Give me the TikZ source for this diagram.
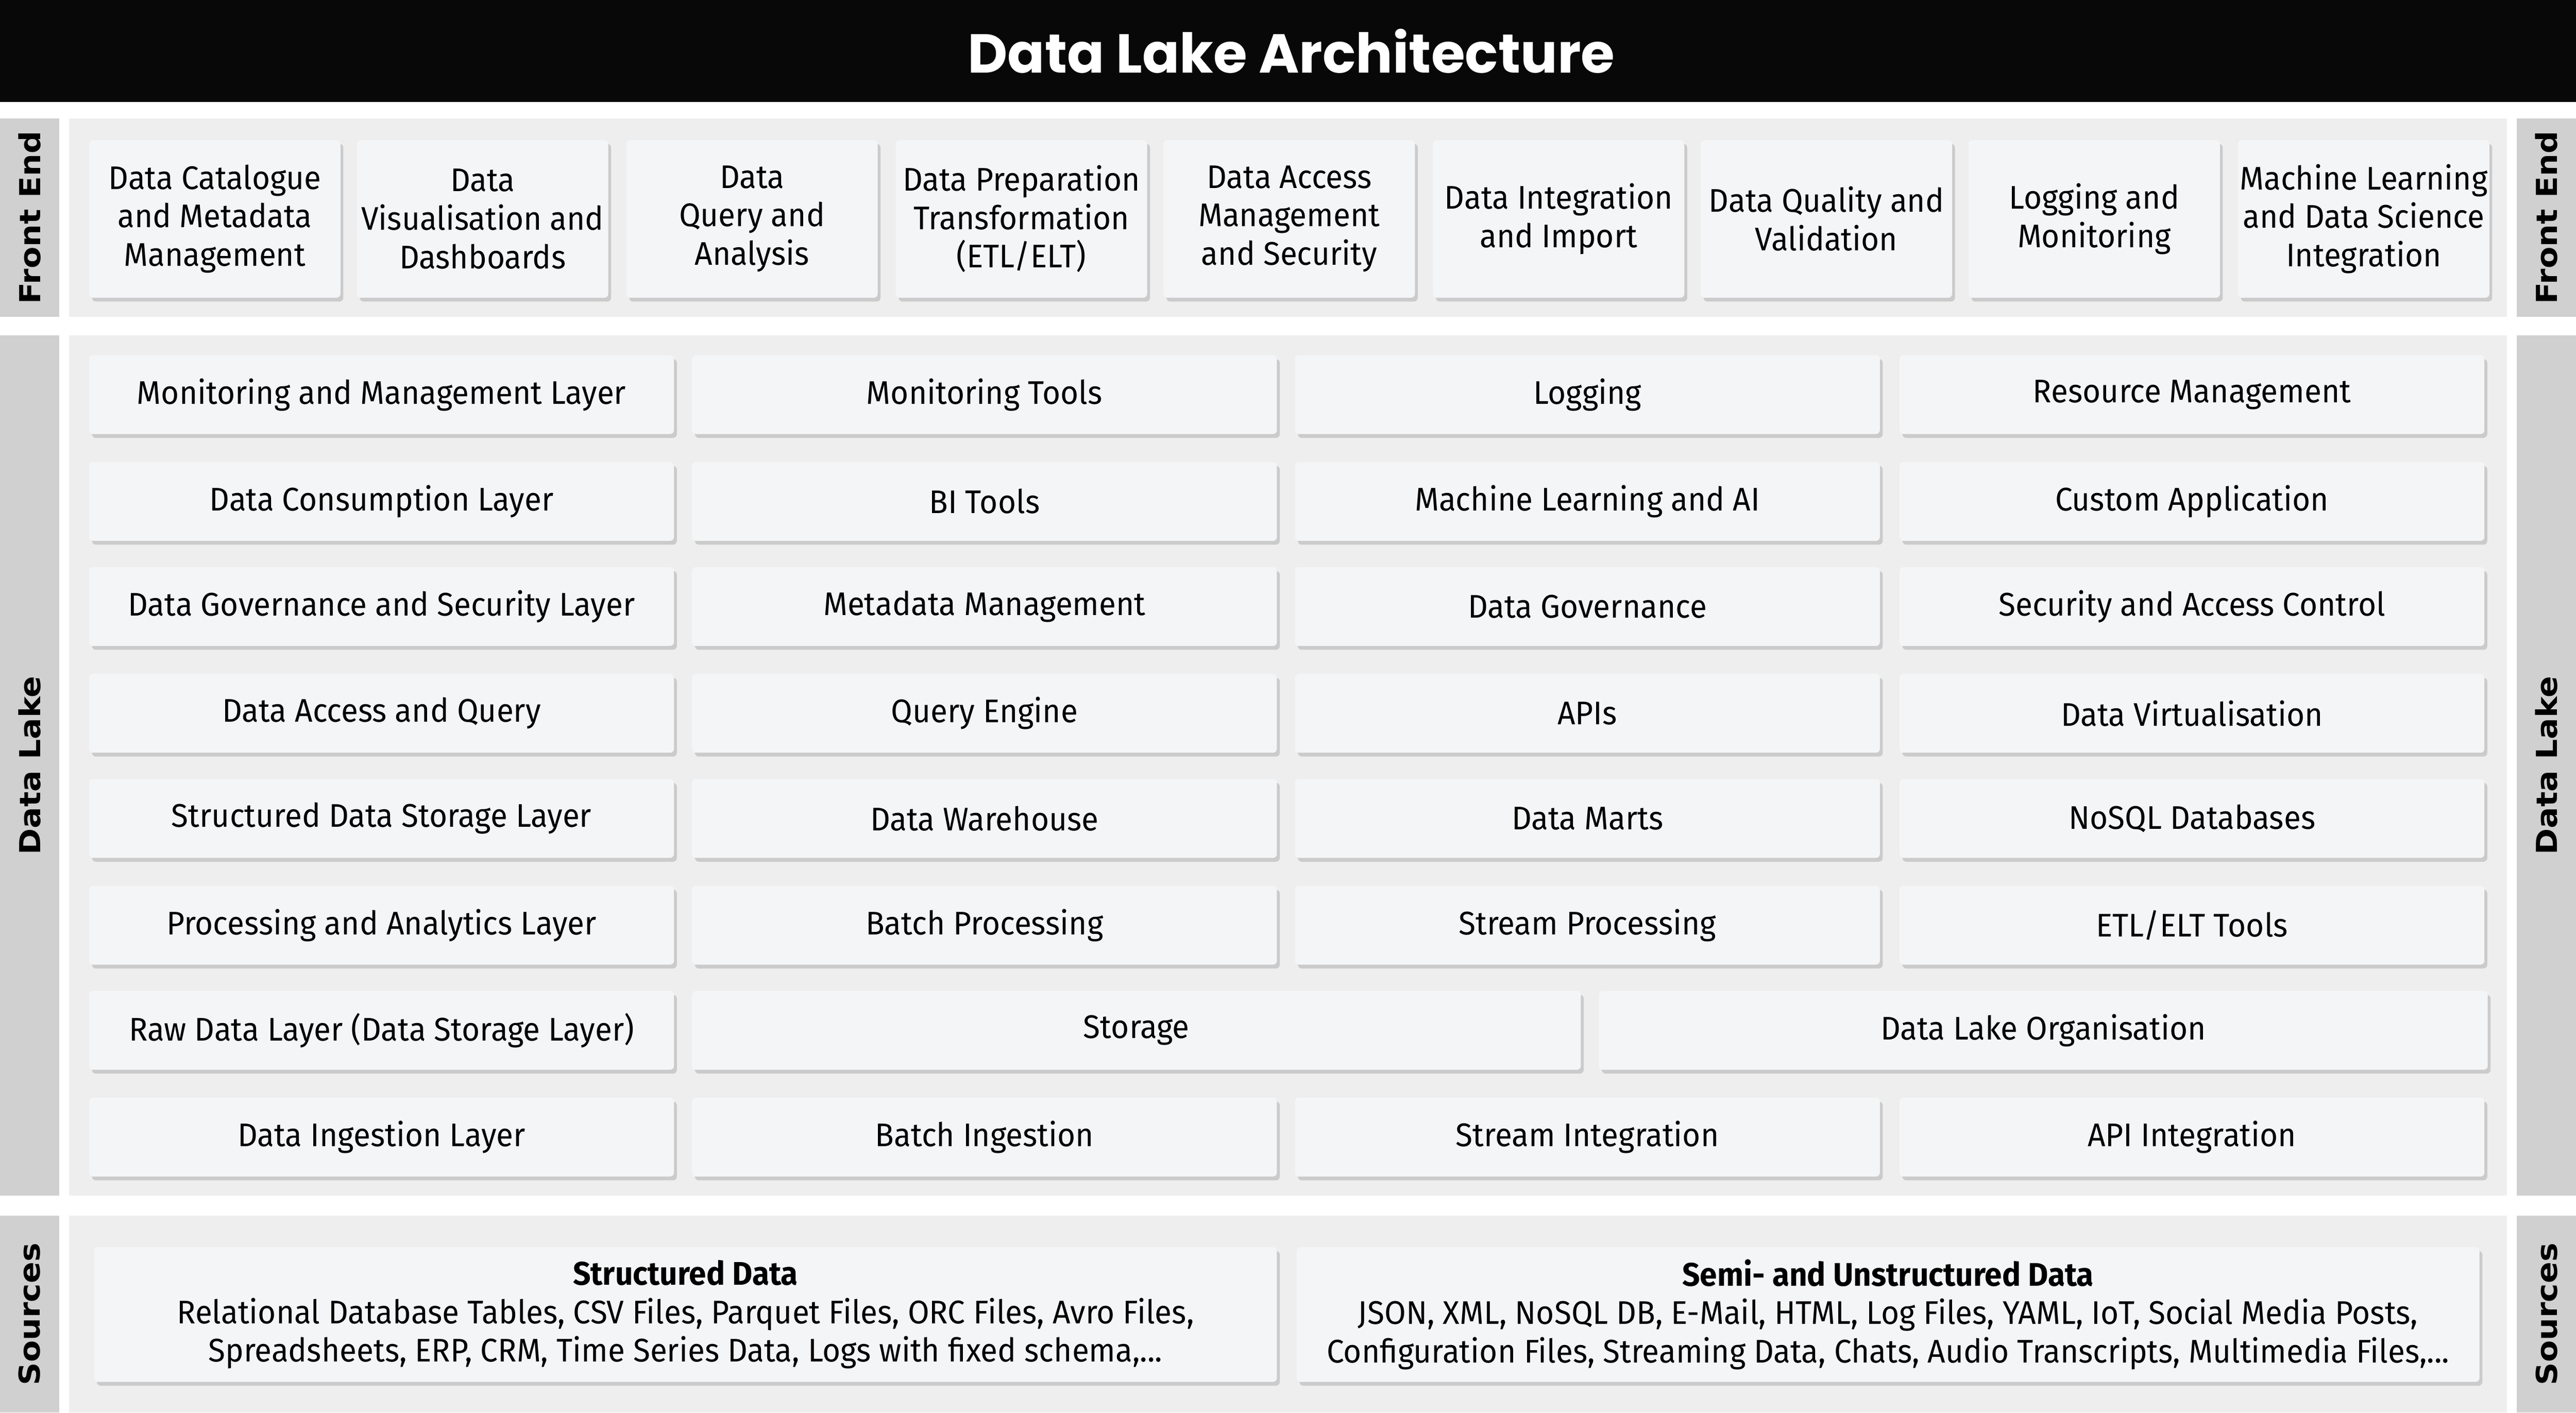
\documentclass[tikz,border=0pt]{standalone}
\usepackage{fontspec}
\setmainfont{Fira Sans}[FakeStretch=0.95]
\newfontfamily\bandfont{DejaVu Sans}[FakeStretch=1.1]
\newfontfamily\titlefont{Poppins}
\usetikzlibrary{positioning,shadows}

\definecolor{bandgray}{HTML}{D0D0D0}
\definecolor{panelgray}{HTML}{EEEEEE}
\definecolor{boxgray}{HTML}{F4F5F7}

\begin{document}
\begin{tikzpicture}[
  x=0.03cm,y=-0.03cm,
  every node/.style={font=\fontsize{17}{20}\selectfont,text=black},
  cell/.style={draw=none,fill=boxgray,rounded corners=2pt,anchor=north west,inner sep=0pt,
    drop shadow={shadow xshift=1.5pt,shadow yshift=-2pt,opacity=0.35,fill=black!45},
    minimum height=48*0.03cm,align=center},
  fecell/.style={cell,minimum width=153*0.03cm,minimum height=96*0.03cm},
  band/.style={fill=bandgray,draw=none},
  panel/.style={fill=panelgray,draw=none},
  bandtext/.style={font=\bandfont\bfseries\fontsize{15}{17}\selectfont},
]
\useasboundingbox (0,0) rectangle (1568,860);

% title
\fill[black!97] (0,0) rectangle (1568,62);
\node (title) at (786,31) {\titlefont\fontsize{28.5}{32}\selectfont\bfseries\color{white} Data Lake Architecture};

% bands and panels
\foreach \top/\bot/\name in {72/193/Front End,204/728/Data Lake,740/860/Sources}{
  \fill[band] (0,\top) rectangle (36,\bot);
  \fill[band] (1532,\top) rectangle (1568,\bot);
  \fill[panel] (42,\top) rectangle (1526,\bot);
  \node[bandtext,rotate=90] at (18,{(\top+\bot)/2}) {\name};
  \node[bandtext,rotate=90] at (1550,{(\top+\bot)/2}) {\name};
}

% front end
\foreach \x/\lbl [count=\i] in {
  54/{Data Catalogue\\and Metadata\\Management},
  217/{Data\\Visualisation and\\Dashboards},
  381/{Data\\Query and\\Analysis},
  545/{Data Preparation\\Transformation\\(ETL/ELT)},
  708/{Data Access\\Management\\and Security},
  872/{Data Integration\\and Import},
  1035/{Data Quality and\\Validation},
  1198/{Logging and\\Monitoring},
  1362/{Machine Learning\\and Data Science\\Integration}}{
  \node (fe\i) [fecell] at (\x,85) {\lbl};
}

% data lake rows
\foreach \y/\a/\b/\c/\d [count=\r] in {
  216/Monitoring and Management Layer/Monitoring Tools/Logging/Resource Management,
  281/Data Consumption Layer/BI Tools/Machine Learning and AI/Custom Application,
  345/Data Governance and Security Layer/Metadata Management/Data Governance/Security and Access Control,
  410/Data Access and Query/Query Engine/APIs/Data Virtualisation,
  474/Structured Data Storage Layer/Data Warehouse/Data Marts/NoSQL Databases,
  539/Processing and Analytics Layer/Batch Processing/Stream Processing/{ETL/ELT Tools},
  668/Data Ingestion Layer/Batch Ingestion/Stream Integration/API Integration}{
  \node (dl\r a) [cell,minimum width=356*0.03cm] at (54,\y) {\a};
  \node (dl\r b) [cell,minimum width=356*0.03cm] at (421,\y) {\b};
  \node (dl\r c) [cell,minimum width=356*0.03cm] at (788,\y) {\c};
  \node (dl\r d) [cell,minimum width=356*0.03cm] at (1156,\y) {\d};
}
\node (raw) [cell,minimum width=356*0.03cm] at (54,603) {Raw Data Layer (Data Storage Layer)};
\node (storage) [cell,minimum width=541*0.03cm] at (421,603) {Storage};
\node (organisation) [cell,minimum width=541*0.03cm] at (973,603) {Data Lake Organisation};

% sources
\node (structured) [cell,minimum width=720*0.03cm,minimum height=82*0.03cm] at (57,759)
  {\textbf{Structured Data}\\Relational Database Tables, CSV Files, Parquet Files, ORC Files, Avro Files,\\Spreadsheets, ERP, CRM, Time Series Data, Logs with fixed schema,...};
\node (unstructured) [cell,minimum width=720*0.03cm,minimum height=82*0.03cm] at (789,759)
  {\textbf{Semi- and Unstructured Data}\\JSON, XML, NoSQL DB, E-Mail, HTML, Log Files, YAML, IoT, Social Media Posts,\\Configuration Files, Streaming Data, Chats, Audio Transcripts, Multimedia Files,...};
\end{tikzpicture}
\end{document}
